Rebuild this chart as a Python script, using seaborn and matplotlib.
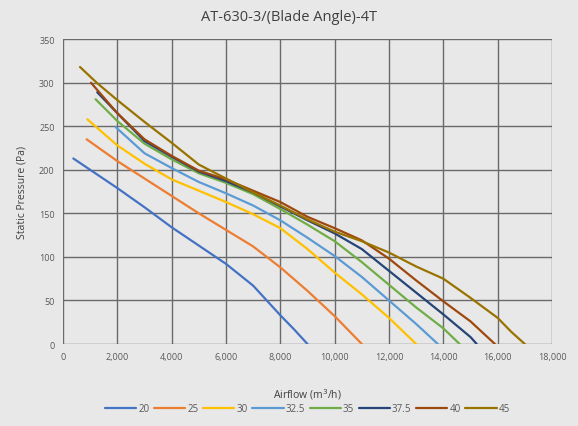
import pandas as pd
import numpy as np
import matplotlib
matplotlib.use("Agg")
import matplotlib.pyplot as plt
import matplotlib.ticker as mticker
import seaborn as sns

# Fan curves (airflow m3/h, static pressure Pa)
angles = ["20", "25", "30", "32.5", "35", "37.5", "40", "45"]

flow_20 = [380, 1000, 2000, 3000, 4000, 5000, 6000, 7000, 8000, 8500, 9000]
pres_20 = [213, 200, 179, 157, 134, 113, 92, 67, 33, 17, 0]

flow_25 = [870, 2000, 3000, 4000, 5000, 6000, 7000, 8000, 9000, 10000, 11000]
pres_25 = [235, 210, 190, 170, 150, 131, 112, 88, 61, 32, 0]

flow_30 = [895, 2000, 3000, 4000, 5000, 6000, 7000, 8000, 9000, 10000, 11000, 12000, 13000]
pres_30 = [258, 228, 207, 189, 176, 163, 149, 133, 109, 82, 57, 30, 0]

flow_325 = [1940, 3000, 4000, 5000, 6000, 7000, 8000, 9000, 10000, 11000, 12000, 13000, 13800]
pres_325 = [249, 219, 202, 186, 173, 159, 142, 122, 101, 77, 50, 23, 0]

flow_35 = [1200, 2000, 3000, 4000, 5000, 6000, 7000, 8000, 9000, 10000, 11000, 12000, 13000, 14000, 14600]
pres_35 = [281, 256, 230, 212, 196, 185, 172, 155, 137, 118, 94, 68, 42, 18, 0]

flow_375 = [1260, 2000, 3000, 4000, 5000, 6000, 7000, 8000, 9000, 10000, 11000, 12000, 13000, 14000, 15000, 15230]
pres_375 = [289, 265, 233, 215, 198, 187, 174, 158, 142, 127, 109, 84, 59, 34, 8, 0]

flow_40 = [1030, 2000, 3000, 4000, 5000, 6000, 7000, 8000, 9000, 10000, 11000, 12000, 13000, 14000, 15000, 15900]
pres_40 = [300, 265, 235, 216, 199, 189, 176, 163, 146, 133, 119, 98, 73, 49, 26, 0]

flow_45 = [626, 1240, 2000, 3000, 4000, 5000, 6000, 7000, 8000, 9000, 10000, 11000, 12000, 13000, 14000, 15000, 16000, 16500, 17000]
pres_45 = [318, 300, 280, 255, 231, 206, 190, 174, 159, 143, 129, 118, 105, 89, 75, 53, 30, 14, 0]

colors = ["#4472C4", "#ED7D31", "#FFC000", "#5B9BD5", "#70AD47", "#264478", "#9E480E", "#997300"]

flows = [flow_20, flow_25, flow_30, flow_325, flow_35, flow_375, flow_40, flow_45]
pressures = [pres_20, pres_25, pres_30, pres_325, pres_35, pres_375, pres_40, pres_45]

frames = []
for a, f, p in zip(angles, flows, pressures):
    frames.append(pd.DataFrame({"Airflow": f, "Pressure": p, "Angle": a}))
df = pd.concat(frames, ignore_index=True)

#----------------------------------------------------------

sns.set_style("white")
plt.rcParams["font.family"] = ["Open Sans", "DejaVu Sans"]

bg = "#e8e8e8"
fig = plt.figure(figsize=(5.78, 4.27), dpi=100, facecolor=bg)
ax = fig.add_axes([0.109, 0.192, 0.846, 0.714], facecolor=bg)

sns.lineplot(data=df, x="Airflow", y="Pressure", hue="Angle", hue_order=angles,
             palette=colors, sort=False, estimator=None, linewidth=1.6, ax=ax)
for ln in ax.get_lines():
    ln.set_solid_joinstyle("round")

ax.set_xlim(0, 18000)
ax.set_ylim(0, 350)
ax.set_xticks(np.arange(0, 18001, 2000))
ax.set_yticks(np.arange(0, 351, 50))
ax.xaxis.set_major_formatter(mticker.StrMethodFormatter("{x:,.0f}"))

ax.grid(True, color="#6a6a6a", linewidth=1.0)
ax.set_axisbelow(True)
for s in ax.spines.values():
    s.set_visible(False)
ax.tick_params(axis="both", labelsize=6.5, colors="#595959", length=0, pad=6)

ax.set_xlabel("Airflow (m$^3$/h)", fontsize=7.5, color="#404040", labelpad=18)
ax.set_ylabel("Static Pressure (Pa)", fontsize=7.5, color="#404040", labelpad=8)

fig.text(0.5, 0.958, "AT-630-3/(Blade Angle)-4T", ha="center", va="center",
         fontsize=10.5, color="#404040")

ax.legend(loc="center", bbox_to_anchor=(0.5, -0.213), ncol=8, frameon=False,
          fontsize=7, handlelength=3.2, columnspacing=0.5, handletextpad=0.2,
          labelcolor="#595959")

plt.savefig("out.png", dpi=100, facecolor=bg)
